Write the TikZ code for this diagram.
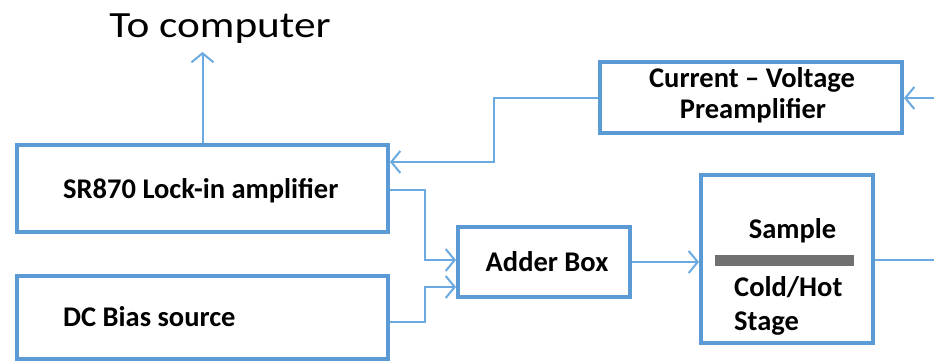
\documentclass[tikz,border=0pt]{standalone}
\usepackage{fontspec}
\setmainfont{Carlito}
\usetikzlibrary{arrows.meta}
\definecolor{boxblue}{HTML}{5B9BD5}
\definecolor{wireblue}{HTML}{6AAAE0}
\definecolor{barGray}{HTML}{707070}
\tikzset{
  blockbox/.style={draw=boxblue, line width=4pt, rectangle, inner sep=0pt},
  wire/.style={draw=wireblue, line width=2pt},
  feed/.style={wire, -{Straight Barb[length=9pt,width=22pt,line width=2pt]}},
  lbl/.style={font=\fontsize{28.5}{32}\selectfont\bfseries, inner sep=0pt},
}
\begin{document}
\begin{tikzpicture}[x=1pt, y=-1pt]
  \useasboundingbox (0,0) rectangle (934,361);

  % instrument blocks
  \node[blockbox, minimum width=371pt, minimum height=87pt] (lockin) at (202.5,188.5) {};
  \node[blockbox, minimum width=371pt, minimum height=83pt] (dcbias) at (202.5,317.5) {};
  \node[blockbox, minimum width=302pt, minimum height=71pt] (preamp) at (751,97.5) {};
  \node[blockbox, minimum width=172pt, minimum height=70pt] (adder) at (544,262) {};
  \node[blockbox, minimum width=172pt, minimum height=168pt] (sample) at (787,259) {};

  % block labels
  \node[lbl, anchor=base west] (lockintxt) at (63,198) {SR870 Lock-in amplifier};
  \node[lbl, anchor=base west] (dctxt) at (63,326.5) {DC Bias source};
  \node[lbl, anchor=base] (pretxt1) at (752,88) {Current -- Voltage};
  \node[lbl, anchor=base] (pretxt2) at (753,118) {Preamplifier};
  \node[lbl, anchor=base] (addertxt) at (547,271.5) {Adder Box};
  \node[lbl, anchor=base] (sampletxt) at (792.5,238) {Sample};
  \node[lbl, anchor=base west] (coldtxt) at (734,296.5) {Cold/Hot};
  \node[lbl, anchor=base west] (stagetxt) at (734,330) {Stage};

  % sample sitting on the stage
  \fill[barGray] (715,255) rectangle (854,266);

  % output to the computer
  \node[font=\fontsize{37}{42}\selectfont\addfontfeatures{FakeStretch=1.17}, anchor=base, inner sep=0pt] (computer) at (220,37.5) {To computer};
  \coordinate (comptip) at (202.5,52);
  \draw[feed] (lockin.north) -- (comptip);

  % lock-in and bias into the adder
  \draw[feed] ([yshift=-1.5pt]lockin.east) -- ++(35,0) |- ([yshift=2pt]adder.west);
  \draw[feed] ([yshift=-4.5pt]dcbias.east) -- ++(35,0) |- ([yshift=-25pt]adder.west);

  % adder drives the sample
  \draw[feed] (adder.east) -- (adder.east -| sample.west);

  % sample current out to the right, back through the preamplifier
  \coordinate (sampleout) at (934,260);
  \draw[wire] (sample.east |- sampleout) -- (sampleout);
  \coordinate (prein) at (934,98);
  \draw[feed] (prein) -- (prein -| preamp.east);

  % preamplifier into the lock-in reference input
  \draw[feed] (preamp.west) -- (494,97.5) |- ([yshift=26.5pt]lockin.east);
\end{tikzpicture}
\end{document}
